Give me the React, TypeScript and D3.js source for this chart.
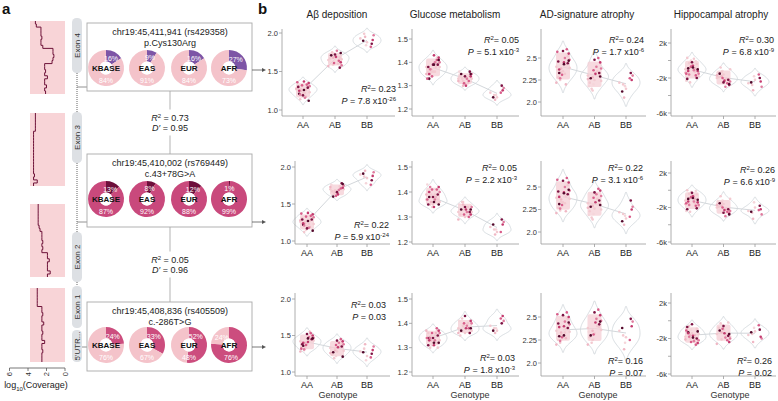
import React from 'react';
import * as d3 from 'd3';

const FONT = "'Liberation Sans', Arial, Helvetica, sans-serif";

// ---------------- panel b data ----------------
const genotypes = ['AA', 'AB', 'BB'];
const traitTitles = ['Aβ deposition', 'Glucose metabolism', 'AD-signature atrophy', 'Hippocampal atrophy'];
const traitTicks = [[1.0, 1.5, 2.0], [1.2, 1.3, 1.4, 1.5], [2.0, 2.25, 2.5], [-6, -2, 2]];
const traitTickLabels = [['1.0', '1.5', '2.0'], ['1.2', '1.3', '1.4', '1.5'], ['2.0', '2.25', '2.5'], ['-6k', '-2k', '2k']];
const traitMinorTicks = [[], [], [], [-4, 0]];

// rs429358
const abeta_rs429358 = [
  [1.27, 1.22, 1.31, 1.18, 1.35, 1.25, 1.29, 1.14, 1.33, 1.21, 1.26, 1.30, 1.16, 1.24, 1.37, 1.28, 1.19, 1.23, 1.32, 1.12, 1.27, 1.34, 1.20, 1.29, 1.25, 1.17, 1.30, 1.22, 1.36, 1.26],
  [1.65, 1.70, 1.58, 1.73, 1.62, 1.68, 1.55, 1.75, 1.64, 1.71, 1.60, 1.67, 1.77, 1.63, 1.69, 1.57, 1.72, 1.66, 1.61, 1.74, 1.59, 1.68],
  [1.93, 1.88, 1.97, 1.84, 1.91, 1.95, 1.86, 1.99, 1.82, 1.90],
];
const glucose_rs429358 = [
  [1.38, 1.36, 1.40, 1.34, 1.42, 1.37, 1.39, 1.35, 1.41, 1.33, 1.38, 1.36, 1.40, 1.37, 1.43, 1.35, 1.39, 1.38, 1.34, 1.41, 1.36, 1.39, 1.37, 1.42, 1.35, 1.40, 1.38, 1.36, 1.33, 1.39],
  [1.33, 1.31, 1.35, 1.32, 1.34, 1.30, 1.36, 1.33, 1.32, 1.35, 1.31, 1.34, 1.33, 1.36, 1.30, 1.32, 1.34, 1.33, 1.31, 1.35, 1.32, 1.34],
  [1.27, 1.25, 1.29, 1.26, 1.28, 1.24, 1.30, 1.26, 1.27, 1.25],
];
const adsig_rs429358 = [
  [2.40, 2.35, 2.48, 2.30, 2.55, 2.38, 2.44, 2.25, 2.60, 2.33, 2.42, 2.28, 2.50, 2.36, 2.45, 2.22, 2.58, 2.39, 2.31, 2.47, 2.34, 2.52, 2.27, 2.41, 2.37, 2.20, 2.46, 2.32, 2.57, 2.43],
  [2.30, 2.25, 2.38, 2.20, 2.45, 2.28, 2.33, 2.15, 2.50, 2.27, 2.35, 2.22, 2.40, 2.18, 2.32, 2.26, 2.48, 2.24, 2.36, 2.29, 2.13, 2.31],
  [2.22, 2.15, 2.30, 2.18, 2.25, 2.05, 2.33, 2.20, 2.27, 2.12],
];
const hippo_rs429358 = [
  [-1.0, -0.5, -1.5, 0.0, -1.2, -0.8, -2.0, -0.3, -1.7, -0.9, -1.3, 0.3, -1.1, -2.3, -0.6, -1.4, -0.2, -1.8, -0.7, -1.0, -2.5, -0.4, -1.6, -0.1, -1.2, -0.9, -2.1, 0.2, -1.5, -0.8],
  [-2.0, -1.6, -2.4, -1.2, -2.8, -1.8, -2.2, -0.8, -2.6, -1.5, -2.1, -1.9, -3.0, -1.4, -2.3, -1.7, -2.5, -1.0, -2.0, -2.7, -1.3, -2.2],
  [-2.6, -2.2, -3.0, -1.8, -2.4, -3.4, -2.0, -2.8, -1.6, -2.5],
];
// rs769449
const abeta_rs769449 = [
  [1.26, 1.20, 1.32, 1.15, 1.36, 1.24, 1.29, 1.12, 1.34, 1.22, 1.27, 1.31, 1.18, 1.25, 1.38, 1.28, 1.17, 1.23, 1.33, 1.14, 1.26, 1.35, 1.21, 1.30, 1.24, 1.19, 1.29, 1.23, 1.37, 1.27],
  [1.70, 1.65, 1.75, 1.62, 1.72, 1.68, 1.78, 1.64, 1.71, 1.60, 1.74, 1.67, 1.69, 1.76, 1.63, 1.73, 1.66, 1.70, 1.61, 1.77, 1.68, 1.72],
  [1.90, 1.85, 1.93, 1.78, 1.88, 1.95, 1.82, 1.87, 1.76, 1.91],
];
const glucose_rs769449 = [
  [1.37, 1.35, 1.40, 1.34, 1.42, 1.36, 1.39, 1.35, 1.41, 1.38, 1.36, 1.40, 1.37, 1.43, 1.34, 1.39, 1.38, 1.36, 1.41, 1.35, 1.39, 1.37, 1.42, 1.36, 1.40, 1.38, 1.35, 1.39, 1.37, 1.36],
  [1.32, 1.30, 1.34, 1.33, 1.31, 1.35, 1.32, 1.36, 1.30, 1.33, 1.34, 1.31, 1.32, 1.35, 1.33, 1.29, 1.34, 1.32, 1.31, 1.33, 1.36, 1.32],
  [1.26, 1.24, 1.28, 1.25, 1.27, 1.23, 1.29, 1.25, 1.24, 1.27],
];
const adsig_rs769449 = [
  [2.38, 2.33, 2.46, 2.28, 2.55, 2.36, 2.42, 2.24, 2.60, 2.31, 2.40, 2.27, 2.50, 2.35, 2.44, 2.21, 2.57, 2.37, 2.30, 2.47, 2.34, 2.52, 2.26, 2.41, 2.39, 2.23, 2.45, 2.32, 2.58, 2.43],
  [2.32, 2.26, 2.40, 2.20, 2.46, 2.29, 2.35, 2.16, 2.48, 2.28, 2.37, 2.23, 2.42, 2.19, 2.33, 2.27, 2.44, 2.25, 2.38, 2.30, 2.14, 2.31],
  [2.22, 2.15, 2.28, 2.18, 2.25, 2.08, 2.35, 2.20, 2.17, 2.12],
];
const hippo_rs769449 = [
  [-1.2, -0.6, -1.7, -0.2, -1.4, -0.9, -2.1, -0.4, -1.8, -1.0, -1.5, 0.0, -1.3, -2.4, -0.7, -1.6, -0.3, -1.9, -0.8, -1.1, -2.5, -0.5, -1.7, -0.1, -1.3, -1.0, -2.2, -0.6, -1.5, -0.9],
  [-2.0, -1.6, -2.4, -1.2, -2.7, -1.8, -2.2, -0.7, -2.5, -1.5, -2.1, -1.9, -3.0, -1.3, -2.3, -1.7, -2.6, -1.0, -2.0, -2.8, -1.4, -2.2],
  [-2.4, -2.0, -2.8, -1.4, -2.2, -3.3, -1.8, -2.6, -2.3, -2.5],
];
// rs405509
const abeta_rs405509 = [
  [1.42, 1.38, 1.47, 1.33, 1.50, 1.40, 1.45, 1.30, 1.53, 1.36, 1.44, 1.39, 1.48, 1.34, 1.41, 1.28, 1.52, 1.43, 1.37, 1.46, 1.35, 1.49, 1.31, 1.42, 1.40, 1.55, 1.38, 1.44, 1.32, 1.46],
  [1.33, 1.28, 1.38, 1.22, 1.42, 1.30, 1.35, 1.19, 1.45, 1.27, 1.36, 1.24, 1.40, 1.31, 1.34, 1.26, 1.43, 1.29, 1.37, 1.21, 1.32, 1.39],
  [1.28, 1.22, 1.35, 1.16, 1.30, 1.38, 1.25, 1.32, 1.20, 1.27],
];
const glucose_rs405509 = [
  [1.34, 1.32, 1.36, 1.31, 1.37, 1.33, 1.35, 1.30, 1.38, 1.34, 1.32, 1.36, 1.33, 1.35, 1.31, 1.37, 1.34, 1.33, 1.36, 1.32, 1.35, 1.30, 1.34, 1.37, 1.33, 1.36, 1.31, 1.35, 1.34, 1.32],
  [1.38, 1.36, 1.40, 1.37, 1.41, 1.39, 1.36, 1.42, 1.38, 1.37, 1.40, 1.35, 1.39, 1.41, 1.38, 1.36, 1.43, 1.37, 1.40, 1.38, 1.39, 1.36],
  [1.39, 1.37, 1.41, 1.38, 1.43, 1.36, 1.40, 1.38, 1.42, 1.37],
];
const adsig_rs405509 = [
  [2.35, 2.30, 2.42, 2.26, 2.50, 2.33, 2.38, 2.22, 2.55, 2.29, 2.37, 2.25, 2.45, 2.32, 2.40, 2.20, 2.52, 2.34, 2.28, 2.44, 2.31, 2.48, 2.24, 2.36, 2.39, 2.27, 2.43, 2.33, 2.53, 2.30],
  [2.38, 2.32, 2.46, 2.26, 2.52, 2.35, 2.42, 2.22, 2.58, 2.30, 2.40, 2.28, 2.48, 2.34, 2.44, 2.20, 2.55, 2.36, 2.31, 2.45, 2.25, 2.39],
  [2.35, 2.28, 2.45, 2.22, 2.40, 2.15, 2.48, 2.30, 2.25, 2.38],
];
const hippo_rs405509 = [
  [-1.8, -1.4, -2.2, -1.0, -2.5, -1.6, -2.0, -0.6, -2.7, -1.3, -1.9, -1.1, -2.3, -0.8, -1.7, -2.1, -0.4, -1.5, -2.4, -1.2, -2.0, -0.9, -1.8, -2.6, -1.4, -1.6, -0.7, -2.2, -1.1, -1.9],
  [-1.5, -1.0, -2.0, -0.5, -2.4, -1.3, -1.7, -0.3, -2.2, -1.1, -1.6, -0.8, -1.9, -1.2, -1.4, -2.6, -0.6, -1.8, -0.9, -1.5, -2.1, -0.2],
  [-1.6, -1.2, -2.0, -0.8, -1.8, -2.4, -1.0, -1.5, -0.5, -1.3],
];

const panelData = [
  [abeta_rs429358, glucose_rs429358, adsig_rs429358, hippo_rs429358],
  [abeta_rs769449, glucose_rs769449, adsig_rs769449, hippo_rs769449],
  [abeta_rs405509, glucose_rs405509, adsig_rs405509, hippo_rs405509],
];

const r2Labels = [['0.23', '0.05', '0.24', '0.30'], ['0.22', '0.05', '0.22', '0.26'], ['0.03', '0.03', '0.16', '0.26']];
const pMantissa = [['7.8', '5.1', '1.7', '6.8'], ['5.9', '2.2', '3.1', '6.6'], ['0.03', '1.8', '0.07', '0.02']];
const pExponent = [['-26', '-3', '-6', '-9'], ['-24', '-3', '-6', '-9'], ['', '-3', '', '']];

// ---------------- panel a data ----------------
const snpPositions = ['chr19:45,411,941 (rs429358)', 'chr19:45,410,002 (rs769449)', 'chr19:45,408,836 (rs405509)'];
const snpConsequences = ['p.Cys130Arg', 'c.43+78G>A', 'c.-286T>G'];
const populations = ['KBASE', 'EAS', 'EUR', 'AFR'];
const firstAllelePct = [[16, 9, 16, 27], [13, 8, 12, 1], [24, 33, 52, 76]];
const ldR2 = ['0.73', '0.05'];
const ldDprime = ['0.95', '0.96'];
const exonLabels = ['Exon 4', 'Exon 3', 'Exon 2', 'Exon 1', "5'UTR..."];
const coverageTicks = [6, 4, 2, 0];
const coverageExon4 = [3.2, 3.1, 2.6, 2.6, 2.6, 2.5, 2.6, 2.6, 2.4, 1.3, 1.3, 1.2, 1.3, 1.4, 2.2, 2.2, 2.1, 2.2, 1.9, 2.2, 2.2, 2.0, 2.2, 2.1];
const coverageExon3 = [3.2, 3.2, 3.2, 3.2, 3.2, 3.2, 3.4, 3.4, 3.4, 3.4, 3.4, 3.4, 3.4, 3.4, 3.4, 3.4, 3.4, 3.4, 3.4, 3.4, 3.3, 3.4, 3.0, 3.4];
const coverageExon2 = [2.9, 2.9, 2.9, 2.9, 2.9, 2.9, 2.9, 2.8, 2.7, 2.5, 2.5, 2.5, 2.4, 2.5, 2.4, 2.5, 1.9, 1.9, 1.7, 1.9, 1.9, 1.9, 1.6, 1.9];
const coverageExon1 = [3.0, 3.0, 3.0, 3.0, 3.0, 3.0, 2.5, 2.5, 2.4, 2.5, 2.5, 2.3, 2.5, 2.5, 2.4, 2.5, 2.5, 2.2, 2.5, 2.5, 2.4, 2.5, 2.5, 2.5];
const coverageTracks = [coverageExon4, coverageExon3, coverageExon2, coverageExon1];

// ---------------- layout ----------------
const ROW_TOP = [29, 161, 293];
const ROW_BASE = [116, 244, 376];
const AXIS_X = [[282, 412, 541, 671], [295, 412, 541, 671], [295, 412, 541, 671]];
const RIGHT_X = [[395, 519, 646, 776], [390, 519, 646, 776], [390, 519, 646, 776]];
const GROUP_X = [
  [[303, 367], [433, 497], [563, 626], [692, 755]],
  [[307, 367], [433, 497], [563, 626], [692, 755]],
  [[307, 367], [433, 497], [563, 626], [692, 755]],
];
const Y_ANCHOR = [
  [[110, 33], [109, 39], [102, 58], [113, 43]],
  [[241, 167], [242, 167], [232, 187], [242, 173]],
  [[372, 299], [372, 299], [363, 317], [374, 303]],
];
const ANN_Y = [[89, 40, 40, 40], [225, 168, 168, 170], [305, 358, 361, 361]];
const ANN_X = [[396, 519, 644, 774], [389, 517, 643, 775], [386, 515, 643, 772]];
const TITLE_X = [337, 455, 587, 721];
const GENOTYPE_X = [338, 470, 598, 730];

const POINT_COLORS = ['#f3c9d0', '#f3c9d0', '#e07b9e', '#f5d5da', '#c43a6e', '#f0b7c4', '#7d1343', '#f3c9d0', '#d95d8a', '#55092c'];
const LIGHT_IDX = new Set([0, 1, 3, 5, 7]);

function ViolinPanel({ row, col }: { row: number; col: number }) {
  const groups = panelData[row][col];
  const ticks = traitTicks[col];
  const y = d3.scaleLinear().domain([ticks[0], ticks[ticks.length - 1]]).range(Y_ANCHOR[row][col]);
  const x = d3.scalePoint<string>().domain(genotypes).range(GROUP_X[row][col]);
  const top = ROW_TOP[row];
  const base = ROW_BASE[row];
  const ax = AXIS_X[row][col];
  const right = RIGHT_X[row][col];
  const means = groups.map((g) => d3.mean(g) as number);
  const meanPath = d3.line<number>().x((_, i) => x(genotypes[i]) as number).y((d) => y(d))(means) || '';

  const violins = groups.map((vals, gi) => {
    const sd = d3.deviation(vals) || 0.01;
    const bw = 1.0 * sd * Math.pow(vals.length, -0.2);
    const lo = (d3.min(vals) as number) - 3.5 * bw;
    const hi = (d3.max(vals) as number) + 3.5 * bw;
    const grid = d3.range(81).map((i) => lo + ((hi - lo) * i) / 80);
    const dens = grid.map((g) => ({ v: g, d: d3.sum(vals, (v) => Math.exp(-0.5 * ((g - v) / bw) ** 2)) }));
    const mx = d3.max(dens, (d) => d.d) as number;
    const kept = dens.filter((d) => d.d > 0.03 * mx);
    const w = d3.scaleLinear().domain([0, mx]).range([0, 14]);
    const cx = x(genotypes[gi]) as number;
    return (
      d3
        .area<{ v: number; d: number }>()
        .y((d) => y(d.v))
        .x0((d) => cx - w(d.d))
        .x1((d) => cx + w(d.d))
        .curve(d3.curveCatmullRom)(kept) || ''
    );
  });

  // dense light "cloud" behind the large groups (10th-90th percentile)
  const clouds = groups
    .map((vals, gi) => {
      if (vals.length < 15) return null;
      const sorted = vals.slice().sort(d3.ascending);
      const q1 = d3.quantile(sorted, 0.08) as number;
      const q9 = d3.quantile(sorted, 0.92) as number;
      const cx = x(genotypes[gi]) as number;
      return { x: cx - 7, y: y(q9), w: 14, h: y(q1) - y(q9) };
    })
    .filter(Boolean) as { x: number; y: number; w: number; h: number }[];

  const pts: { cx: number; cy: number; c: number }[] = [];
  groups.forEach((vals, gi) => {
    vals.forEach((v, i) => {
      const jit = (((i * 37) % 15) - 7) * 0.95;
      pts.push({ cx: (x(genotypes[gi]) as number) + jit, cy: y(v), c: i % POINT_COLORS.length });
    });
  });
  const light = pts.filter((p) => LIGHT_IDX.has(p.c));
  const dark = pts.filter((p) => !LIGHT_IDX.has(p.c));

  const annY = ANN_Y[row][col];
  const annX = ANN_X[row][col];

  return (
    <g>
      <path d={meanPath} fill="none" stroke="#d3d7db" strokeWidth={1} />
      {violins.map((d, i) => (
        <path key={i} d={d} fill="none" stroke="#d3d8dc" strokeWidth={0.9} />
      ))}
      {clouds.map((c, i) => (
        <rect key={'cl' + i} x={c.x} y={c.y} width={c.w} height={c.h} rx={2} fill="#f4cdd4" opacity={0.75} />
      ))}
      {light.concat(dark).map((p, i) => (
        <circle key={i} cx={p.cx} cy={p.cy} r={1.3} fill={POINT_COLORS[p.c]} />
      ))}
      <line x1={ax} x2={ax} y1={top} y2={base} stroke="#9a9a9a" strokeWidth={0.8} />
      <line x1={ax} x2={right} y1={base} y2={base} stroke="#9a9a9a" strokeWidth={0.8} />
      {ticks.map((t, i) => (
        <g key={i}>
          <line x1={ax - 3} x2={ax} y1={y(t)} y2={y(t)} stroke="#9a9a9a" strokeWidth={0.8} />
          <text x={ax - 4} y={y(t) + 2.6} fontSize={7.5} textAnchor="end" fill="#333">
            {traitTickLabels[col][i]}
          </text>
        </g>
      ))}
      {traitMinorTicks[col].map((t, i) => (
        <line key={'m' + i} x1={ax - 3} x2={ax} y1={y(t)} y2={y(t)} stroke="#9a9a9a" strokeWidth={0.8} />
      ))}
      {genotypes.map((g) => (
        <g key={g}>
          <line x1={x(g)} x2={x(g)} y1={base} y2={base + 3} stroke="#9a9a9a" strokeWidth={0.8} />
          <text x={x(g)} y={base + 11.5} fontSize={9} textAnchor="middle" fill="#222">
            {g}
          </text>
        </g>
      ))}
      <text x={annX} y={annY + 3} fontSize={9} textAnchor="end" fill="#222">
        <tspan fontStyle="italic">R</tspan>
        <tspan dy={-3.5} fontSize={6}>2</tspan>
        <tspan dy={3.5}>{'= ' + r2Labels[row][col]}</tspan>
      </text>
      <text x={annX} y={annY + 15} fontSize={9} textAnchor="end" fill="#222">
        <tspan fontStyle="italic">P</tspan>
        <tspan>{' = ' + pMantissa[row][col] + (pExponent[row][col] ? ' x10' : '')}</tspan>
        {pExponent[row][col] ? (
          <tspan dy={-3.5} fontSize={6}>
            {pExponent[row][col]}
          </tspan>
        ) : null}
      </text>
    </g>
  );
}

// ---------------- panel a pieces ----------------
const TRACK_SPANS = [[21, 94], [113, 186], [204, 277], [288, 362]];
const PILL_SPANS = [[18, 73], [112, 163], [232, 282], [286, 328], [330, 362]];
const DOT_SPANS = [[73, 112], [163, 232], [282, 286]];
const BOX_SPANS = [[23, 91], [154, 227], [302, 371]];
const PIE_CY = [68, 199, 345];
const PIE_CX = [106, 147, 189, 229];
const ARROW_Y = [70, 222, 347];
const CONNECT = [[77, 87], [77, 222], [82, 347]];
const PIE_COLORS = [
  ['#7d55a6', '#f4c3ca'],
  ['#6e0f3b', '#c9497c'],
  ['#cc4d7e', '#f4c3ca'],
];

function CoveragePanel() {
  const xs = d3.scaleLinear().domain([0, 6]).range([65, 9.5]);
  return (
    <g>
      {coverageTracks.map((vals, k) => {
        const [t, b] = TRACK_SPANS[k];
        const ys = d3.scaleLinear().domain([0, vals.length]).range([t, b]);
        const pts: [number, number][] = [];
        vals.forEach((v, i) => {
          pts.push([xs(v), ys(i)]);
          pts.push([xs(v), ys(i + 1)]);
        });
        return (
          <g key={k}>
            <rect x={30} y={t} width={35} height={b - t} fill="#f8d4d7" />
            <path d={d3.line()(pts) || ''} fill="none" stroke="#6d1238" strokeWidth={1} />
          </g>
        );
      })}
      <line x1={xs(6)} x2={xs(0)} y1={368} y2={368} stroke="#555" strokeWidth={0.8} />
      {coverageTicks.map((t) => (
        <g key={t}>
          <line x1={xs(t)} x2={xs(t)} y1={368} y2={371} stroke="#555" strokeWidth={0.8} />
          <text transform={`translate(${xs(t) + 2.5},${372}) rotate(-90)`} fontSize={7.5} textAnchor="end" fill="#333">
            {t}
          </text>
        </g>
      ))}
      <text x={36} y={388} fontSize={9} textAnchor="middle" fill="#222">
        log
        <tspan dy={2.5} fontSize={6}>10</tspan>
        <tspan dy={-2.5}>(Coverage)</tspan>
      </text>
    </g>
  );
}

function ExonTrack() {
  return (
    <g>
      {DOT_SPANS.map(([a, b], i) => (
        <line key={i} x1={77} x2={77} y1={a} y2={b} stroke="#666" strokeWidth={1} strokeDasharray="1 1" />
      ))}
      {PILL_SPANS.map(([a, b], i) => (
        <g key={i}>
          <rect x={72} y={a} width={10} height={b - a} rx={4.5} fill="#dde0e4" />
          <text
            transform={`translate(${77},${(a + b) / 2}) rotate(-90)`}
            fontSize={8}
            textAnchor="middle"
            dy="0.35em"
            fill="#333"
          >
            {exonLabels[i]}
          </text>
        </g>
      ))}
      {CONNECT.map(([x0, yy], i) => (
        <line key={'c' + i} x1={x0} x2={87} y1={yy} y2={yy} stroke="#777" strokeWidth={0.8} />
      ))}
    </g>
  );
}

function SnpBoxes() {
  const arc = d3.arc<d3.PieArcDatum<number>>().innerRadius(6.5).outerRadius(18);
  const pie = d3.pie<number>().sort(null);
  return (
    <g>
      {BOX_SPANS.map(([t, b], k) => (
        <g key={k}>
          <rect x={87} y={t} width={165} height={b - t} fill="#fff" stroke="#a9a9a9" strokeWidth={0.9} />
          <text x={170} y={t + 12} fontSize={9} textAnchor="middle" fill="#222">
            {snpPositions[k]}
          </text>
          <text x={170} y={t + 23} fontSize={9} textAnchor="middle" fill="#222">
            {snpConsequences[k]}
          </text>
          {populations.map((pop, j) => {
            const p = firstAllelePct[k][j];
            const arcs = pie([p, 100 - p]);
            const cx = PIE_CX[j];
            const cy = PIE_CY[k];
            const mid = (a: d3.PieArcDatum<number>) => (a.startAngle + a.endAngle) / 2;
            let p1: [number, number];
            let p2: [number, number];
            if (p <= 55) {
              const a = Math.min(mid(arcs[0]), 0.7);
              p1 = [10.5 * Math.sin(a), -10.5 * Math.cos(a)];
              p2 = [0, 12];
            } else {
              p1 = [2, 12];
              const a = mid(arcs[1]);
              p2 = [10.5 * Math.sin(a), -10.5 * Math.cos(a)];
            }
            return (
              <g key={pop} transform={`translate(${cx},${cy})`}>
                {arcs.map((a, ai) => (
                  <path key={ai} d={arc(a) || ''} fill={PIE_COLORS[k][ai]} />
                ))}
                <circle r={6.5} fill="#fff" />
                <text x={p1[0]} y={p1[1] + 2.5} fontSize={7} textAnchor="middle" fill="#fff">
                  {p + '%'}
                </text>
                <text x={p2[0]} y={p2[1] + 2.5} fontSize={7} textAnchor="middle" fill="#fff">
                  {100 - p + '%'}
                </text>
                <text x={0} y={3} fontSize={8} fontWeight="bold" textAnchor="middle" fill="#111">
                  {pop}
                </text>
              </g>
            );
          })}
        </g>
      ))}
      {ARROW_Y.map((yy, i) => (
        <g key={'a' + i}>
          <line x1={252} x2={263} y1={yy} y2={yy} stroke="#555" strokeWidth={0.8} />
          <path d={`M${266},${yy} L${262},${yy - 2} L${262},${yy + 2} Z`} fill="#555" />
        </g>
      ))}
      {ldR2.map((r, i) => {
        const top = BOX_SPANS[i][1];
        const bot = BOX_SPANS[i + 1][0];
        const mid = (top + bot) / 2;
        return (
          <g key={'ld' + i}>
            <line x1={170} x2={170} y1={top} y2={mid - 13} stroke="#aaa" strokeWidth={0.9} />
            <line x1={170} x2={170} y1={mid + 13} y2={bot} stroke="#aaa" strokeWidth={0.9} />
            <text x={170} y={mid - 1.5} fontSize={9} textAnchor="middle" fill="#222">
              <tspan fontStyle="italic">R</tspan>
              <tspan dy={-3.5} fontSize={6}>2</tspan>
              <tspan dy={3.5}>{' = ' + r}</tspan>
            </text>
            <text x={170} y={mid + 8} fontSize={9} textAnchor="middle" fill="#222">
              <tspan fontStyle="italic">D′</tspan>
              <tspan>{' = ' + ldDprime[i]}</tspan>
            </text>
          </g>
        );
      })}
    </g>
  );
}

export default function App() {
  return (
    <svg
      width={778}
      height={401}
      style={{ position: 'absolute', left: 0, top: 0, background: '#fff' }}
      fontFamily={FONT}
    >
      <rect width={778} height={401} fill="#fff" />
      <text x={2} y={14} fontSize={15} fontWeight="bold" fill="#111">
        a
      </text>
      <text x={258} y={14} fontSize={15} fontWeight="bold" fill="#111">
        b
      </text>
      <CoveragePanel />
      <ExonTrack />
      <SnpBoxes />
      {traitTitles.map((t, i) => (
        <text key={t} x={TITLE_X[i]} y={18} fontSize={10} textAnchor="middle" fill="#222">
          {t}
        </text>
      ))}
      {[0, 1, 2].map((r) => [0, 1, 2, 3].map((c) => <ViolinPanel key={`${r}-${c}`} row={r} col={c} />))}
      {GENOTYPE_X.map((gx, i) => (
        <text key={'g' + i} x={gx} y={398} fontSize={9} textAnchor="middle" fill="#333">
          Genotype
        </text>
      ))}
    </svg>
  );
}
